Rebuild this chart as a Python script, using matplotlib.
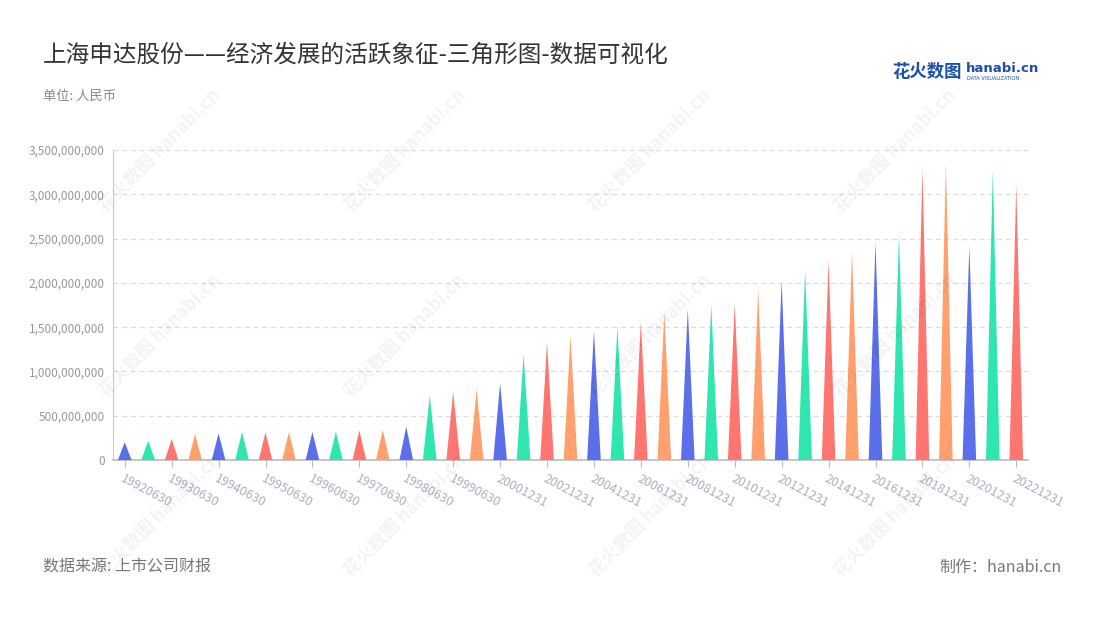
import matplotlib
matplotlib.use("Agg")
import matplotlib.pyplot as plt
from matplotlib.ticker import FuncFormatter

plt.rcParams['font.family'] = ['Noto Sans CJK SC', 'DejaVu Sans']

# report dates: half-yearly 1992-1999, yearly from 2000
dates = ["19920630", "19921231", "19930630", "19931231", "19940630", "19941231",
         "19950630", "19951231", "19960630", "19961231", "19970630", "19971231",
         "19980630", "19981231", "19990630", "19991231"] + \
        [f"{y}1231" for y in range(2000, 2023)]

# values (RMB)
values = [200e6, 218e6, 237e6, 294e6, 301e6, 316e6, 312e6, 316e6, 316e6, 320e6,
          335e6, 339e6, 376e6, 723e6, 768e6, 794e6, 866e6, 1193e6, 1328e6, 1404e6,
          1456e6, 1505e6, 1562e6, 1675e6, 1705e6, 1750e6, 1769e6, 1927e6, 2025e6,
          2145e6, 2258e6, 2352e6, 2461e6, 2548e6, 3293e6, 3349e6, 2416e6, 3274e6,
          3104e6]

palette = ["#5a6fe9", "#2fe6b0", "#ff7570", "#ffa06e"]

fig = plt.figure(figsize=(11, 6.2), dpi=100)
ax = fig.add_axes([113 / 1100, 1 - 460 / 620, (1028 - 113) / 1100, 310 / 620])

w = 0.58
for i, v in enumerate(values):
    ax.fill([i - w / 2, i, i + w / 2], [0, v, 0], color=palette[i % 4],
            linewidth=0, zorder=3)

ax.set_xlim(-0.5, len(values) - 0.5)
ax.set_ylim(0, 3.5e9)
ax.set_yticks([i * 5e8 for i in range(8)])
ax.yaxis.set_major_formatter(FuncFormatter(lambda v, p: f"{int(v):,}"))
ax.tick_params(axis='y', length=0, labelsize=8.5, labelcolor='#999999', pad=6)
ax.grid(axis='y', color='#dddddd', linestyle=(0, (4, 3)), linewidth=0.9, zorder=0)

ticks = list(range(0, len(values), 2))
ax.set_xticks(ticks)
ax.set_xticklabels([dates[i] for i in ticks], rotation=-28, ha='left', va='top',
                   rotation_mode='anchor')
ax.tick_params(axis='x', length=5, color='#bbbbbb', labelsize=9,
               labelcolor='#aab0c0', pad=4)

for s in ['top', 'right']:
    ax.spines[s].set_visible(False)
ax.spines['left'].set_color('#cccccc')
ax.spines['bottom'].set_color('#bbbbbb')
ax.spines['bottom'].set_linewidth(1.2)

# watermarks
for wx in [160, 405, 650, 895]:
    for wy in [150, 335, 515]:
        fig.text(wx / 1100, 1 - wy / 620, "花火数图 hanabi.cn", rotation=45,
                 fontsize=13, color='#000000', alpha=0.05, ha='center',
                 va='center', fontweight='bold')

fig.text(43 / 1100, 1 - 55 / 620, "上海申达股份——经济发展的活跃象征-三角形图-数据可视化",
         fontsize=17, color='#333333', va='center')
fig.text(43 / 1100, 1 - 96 / 620, "单位: 人民币", fontsize=9.5, color='#888888',
         va='center')
fig.text(43 / 1100, 1 - 567 / 620, "数据来源: 上市公司财报", fontsize=11.5,
         color='#777777', va='center')
fig.text(1062 / 1100, 1 - 567 / 620, "制作：hanabi.cn", fontsize=11.5,
         color='#777777', va='center', ha='right')

# logo
fig.text(892 / 1100, 1 - 72 / 620, "花火数图", fontsize=12.5, color='#1b4fae',
         fontweight='bold', va='center')
fig.text(966 / 1100, 1 - 69 / 620, "hanabi.cn", fontsize=9.5, color='#1b4fae',
         fontweight='bold', va='center', family='DejaVu Sans')
fig.text(967 / 1100, 1 - 79 / 620, "DATA VISUALIZATION", fontsize=3.6,
         color='#1b4fae', va='center', family='DejaVu Sans')

fig.savefig("out.png", dpi=100)
